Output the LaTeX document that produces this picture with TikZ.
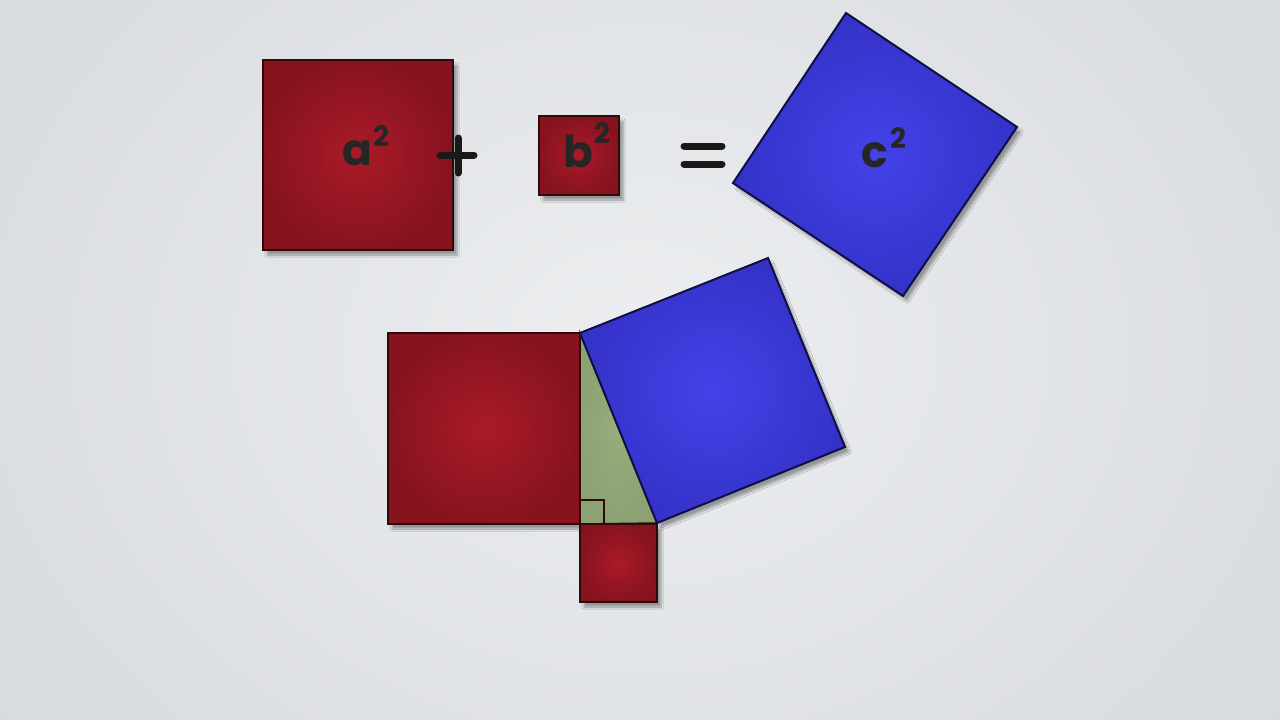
\documentclass[tikz,border=0pt]{standalone}
\usepackage{fontspec}
\setmainfont{Poppins}
\usetikzlibrary{shadows.blur}
\definecolor{bgin}{RGB}{236,238,240}
\definecolor{bgout}{RGB}{212,215,219}
\definecolor{redin}{RGB}{170,26,40}
\definecolor{redout}{RGB}{135,19,31}
\definecolor{redline}{RGB}{45,10,12}
\definecolor{bluein}{RGB}{68,66,232}
\definecolor{blueout}{RGB}{52,50,200}
\definecolor{blueline}{RGB}{15,15,70}
\definecolor{greenin}{RGB}{152,172,124}
\definecolor{greenout}{RGB}{140,162,114}
\tikzset{
  redsq/.style={draw=redline, line width=2pt, inner color=redin, outer color=redout,
    blur shadow={shadow xshift=4pt, shadow yshift=-5pt, shadow blur steps=8, shadow opacity=35}},
  bluesq/.style={draw=blueline, line width=2pt, inner color=bluein, outer color=blueout,
    blur shadow={shadow xshift=4pt, shadow yshift=-5pt, shadow blur steps=8, shadow opacity=35}},
  greentri/.style={draw=redline, line width=1.5pt, inner color=greenin, outer color=greenout},
  sym/.style={line width=7pt, line cap=round, black!90},
  lbl/.style={font=\fontsize{44}{44}\selectfont\bfseries, text=black!85, inner sep=0pt},
  sup/.style={font=\fontsize{28}{28}\selectfont\bfseries, text=black!85, inner sep=0pt}
}
\begin{document}
\begin{tikzpicture}[x=1pt,y=-1pt]
\useasboundingbox (0,0) rectangle (1280,720);
\shade[inner color=bgin, outer color=bgout] (-300,-400) rectangle (1580,1100);
% top row
\shade[redsq] (263,60) rectangle (453,250);
\shade[redsq] (539,116) rectangle (619,195);
\shade[bluesq] (846,13) -- (1017,127) -- (903,296) -- (733,183) -- cycle;
\node[lbl] (a) at (357,153) {a};
\node[sup] (a2) at (381,136) {2};
\node[lbl] (b) at (578,151) {b};
\node[sup] (b2) at (602,133) {2};
\node[lbl] (c) at (875,155) {c};
\node[sup] (c2) at (898,138) {2};
\coordinate (plusL) at (440,155);
\coordinate (plusR) at (474,155);
\coordinate (plusT) at (458,138);
\coordinate (plusB) at (458,173);
\draw[sym] (plusL) -- (plusR);
\draw[sym] (plusT) -- (plusB);
\coordinate (eq1L) at (684,146);
\coordinate (eq1R) at (722,146);
\coordinate (eq2L) at (684,164);
\coordinate (eq2R) at (722,164);
\draw[sym] (eq1L) -- (eq1R);
\draw[sym] (eq2L) -- (eq2R);
% bottom figure
\coordinate (A) at (580,333);
\coordinate (C) at (580,524);
\coordinate (B) at (657,523);
\shade[redsq] (388,333) rectangle (580,524);
\shade[redsq] (580,524) rectangle (657,602);
\shade[greentri] (A) -- (C) -- (B) -- cycle;
\draw[redline, line width=2pt] (580,500) -- (604,500) -- (604,524);
\shade[bluesq] (A) -- (768,258) -- (845,447) -- (B) -- cycle;
\end{tikzpicture}
\end{document}
